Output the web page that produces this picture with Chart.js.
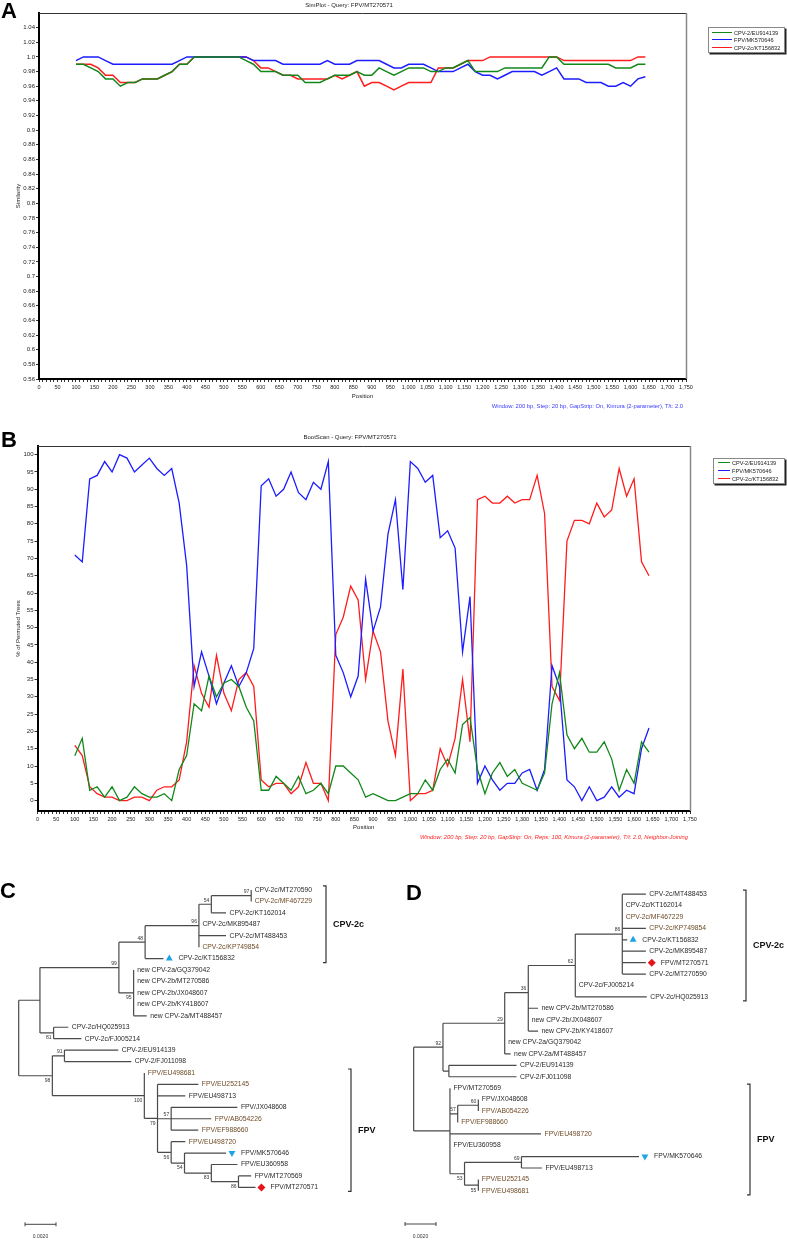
<!DOCTYPE html>
<html><head><meta charset="utf-8">
<script src="https://cdn.jsdelivr.net/npm/chart.js@4.4.1/dist/chart.umd.min.js"></script>
<style>
html,body{margin:0;padding:0;background:#fff;}
#page{position:relative;width:787px;height:1240px;overflow:hidden;font-family:"Liberation Sans",Arial,sans-serif;background:#fff;}
canvas{position:absolute;}
.t{position:absolute;white-space:nowrap;line-height:1;}
.panel{font-weight:bold;font-size:22px;color:#000;}
.title{font-size:6px;color:#222;transform:translateX(-50%);}
.note{font-size:5.8px;}
.legend{position:absolute;background:#fff;border:1px solid #888;box-shadow:1.5px 1.5px 0 #222;}
.li{position:absolute;height:0;border-top:1.8px solid;}
.lt{position:absolute;font-size:5.6px;color:#222;line-height:6px;white-space:nowrap;}
</style></head>
<body><div id="page">
<canvas id="cA" width="787" height="420" style="left:0;top:0"></canvas>
<canvas id="cB" width="787" height="430" style="left:0;top:420px"></canvas>
<canvas id="cC" width="393" height="390" style="left:0;top:850px"></canvas>
<canvas id="cD" width="394" height="390" style="left:393px;top:850px"></canvas>
<div class="t panel" style="left:1px;top:0px">A</div>
<div class="t panel" style="left:1px;top:429px">B</div>
<div class="t panel" style="left:0px;top:880px">C</div>
<div class="t panel" style="left:406px;top:882px">D</div>
<div class="t title" style="left:349px;top:2px">SimPlot - Query: FPV/MT270571</div>
<div class="t title" style="left:350px;top:434px">BootScan - Query: FPV/MT270571</div>
<div class="t note" style="right:104px;top:404px;color:#3b3bff">Window: 200 bp, Step: 20 bp, GapStrip: On, Kimura (2-parameter), T/t: 2.0</div>
<div class="t note" style="right:99px;top:835px;color:#ff2020;font-style:italic">Window: 200 bp, Step: 20 bp, GapStrip: On, Reps: 100, Kimura (2-parameter), T/t: 2.0, Neighbor-Joining</div>
<div id="legA" class="legend" style="left:708px;top:27px;width:75px;height:24px"></div>
<div id="legB" class="legend" style="left:713px;top:458px;width:70px;height:24px"></div>
</div>
<script>
const FONT = '"Liberation Sans", Arial, sans-serif';
Chart.defaults.font.family = FONT;

// ---------- data: positions (bp) ----------
const POS = [100,120,140,160,180,200,220,240,260,280,300,320,340,360,380,400,420,440,460,480,500,520,540,560,580,600,620,640,660,680,700,720,740,760,780,800,820,840,860,880,900,920,940,960,980,1000,1020,1040,1060,1080,1100,1120,1140,1160,1180,1200,1220,1240,1260,1280,1300,1320,1340,1360,1380,1400,1420,1440,1460,1480,1500,1520,1540,1560,1580,1600,1620,1640];
const SERIES_NAMES = ['CPV-2/EU914139','FPV/MK570646','CPV-2c/KT156832'];

// ---------- A: SimPlot similarity ----------
const A_CPV2 = [0.99,0.99,0.985,0.98,0.97,0.97,0.96,0.965,0.965,0.97,0.97,0.97,0.975,0.98,0.99,0.99,
 1.0,1.0,1.0,1.0,1.0,1.0,1.0, 0.995,0.99,0.98,0.98,0.98, 0.975,0.975,0.975, 0.965,0.965,0.965,
 0.97,0.975,0.975,0.975, 0.98,0.975,0.975, 0.985,0.98,0.975,0.98, 0.985,0.985,0.985,
 0.98,0.98,0.985,0.985, 0.99,0.995, 0.98,0.98,0.98,0.98, 0.985,0.985,0.985,0.985,0.985,0.985,
 1.0,1.0, 0.99,0.99,0.99,0.99,0.99,0.99,0.99, 0.985,0.985,0.985, 0.99,0.99];
const A_FPV = [0.995,1.0,1.0,1.0,0.995,0.99, 0.99,0.99,0.99,0.99,0.99,0.99,0.99,0.99, 0.995,1.0,
 1.0,1.0,1.0,1.0,1.0,1.0,1.0,1.0, 0.995,0.995,0.995,0.995, 0.99,0.99,0.99,0.99,0.99,0.99, 0.995,
 0.99,0.99,0.99, 0.995,0.995,0.995,0.995, 0.99,0.985,0.985, 0.99,0.99,0.99, 0.985,0.98,0.98,0.98,
 0.985,0.99, 0.98,0.975,0.975,0.97,0.975, 0.98,0.98,0.98,0.98, 0.975,0.98,0.985, 0.97,0.97,0.97,
 0.965,0.965,0.965, 0.96,0.96,0.965,0.96,0.97,0.973];
const A_CPV2C = [0.99,0.99,0.99,0.985,0.975,0.975,0.965,0.965,0.965,0.97,0.97,0.97,0.975,0.98,0.99,0.99,
 1.0,1.0,1.0,1.0,1.0,1.0,1.0,1.0, 0.995, 0.985,0.985,0.98, 0.975,0.975, 0.97, 0.97,0.97,0.97,0.97,
 0.975,0.97,0.975, 0.98, 0.96,0.965,0.965, 0.96,0.955,0.96, 0.965,0.965,0.965,0.965,
 0.985,0.985,0.985, 0.99, 0.995,0.995,0.995, 1.0,1.0,1.0,1.0,1.0,1.0,1.0,1.0,1.0,1.0,
 0.995,0.995,0.995,0.995,0.995,0.995,0.995,0.995,0.995,0.995, 1.0,1.0];

// ---------- B: BootScan % permuted trees ----------
const B_CPV2 = [13,18,3,4,1,4,0,1,4,2, 1,1,2,0,9,13,28,26,36,30, 34,35,33,27,23,3,3,7,5,3,
 7,2,3,5,2,10,10,8,6,1, 2,1,0,0,1,2,2,6,3,9, 12,8,22,24,9,2,8,11,7,9,
 5,4,3,8,28,37,19,15,18,14, 14,17,12,3,9,5,17,14];
const B_FPV = [71,69,93,94,98,95,100,99,95,97, 99,96,94,96,86,68,33,43,36,28, 34,39,33,37,44,91,93,88,90,95,
 89,87,92,90,98,42,37,30,36,64, 49,56,77,87,61,98,96,92,94,76, 78,73,43,59,5,10,6,3,5,5,
 8,9,3,9,39,33,6,4,0,4, 0,1,4,1,3,2,15,21];
const B_CPV2C = [16,13,4,2,1,1,0,0,1,1, 0,3,4,4,6,17,39,31,27,42, 31,26,35,37,33,6,4,5,5,2,
 4,11,5,5,0,48,53,62,58,35, 49,43,23,13,38,0,2,2,3,15, 10,18,35,17,87,88,86,86,88,86,
 87,87,94,83,33,29,75,81,81,80, 86,82,84,96,88,93,69,65];

// ---------- axis ticks ----------
const X_TICKS = []; for (let v = 0; v <= 1750; v += 10) X_TICKS.push(v);
const A_YTICKS = []; for (let k = 56; k <= 104; k += 2) A_YTICKS.push(k / 100);
const B_YTICKS = []; for (let v = 0; v <= 100; v += 5) B_YTICKS.push(v);

// ---------- C tree (region 1) ----------
const C_LEAVES = ['CPV-2c/MT270590','CPV-2c/MF467229','CPV-2c/KT162014','CPV-2c/MK895487','CPV-2c/MT488453','CPV-2c/KP749854','CPV-2c/KT156832','new CPV-2a/GQ379042','new CPV-2b/MT270586','new CPV-2b/JX048607','new CPV-2b/KY418607','new CPV-2a/MT488457','CPV-2c/HQ025913','CPV-2c/FJ005214','CPV-2/EU914139','CPV-2/FJ011098','FPV/EU498681','FPV/EU252145','FPV/EU498713','FPV/JX048608','FPV/AB054226','FPV/EF988660','FPV/EU498720','FPV/MK570646','FPV/EU360958','FPV/MT270569','FPV/MT270571'];
const C_TIPS = [0.01499,0.01499,0.01337,0.01162,0.01337,0.01162,0.00933,0.00741,0.00741,0.00741,0.00741,0.00825,0.0032,0.00404,0.00642,0.00726,0.0081,0.01158,0.01074,0.0141,0.01242,0.01158,0.01074,0.01337,0.0141,0.01499,0.01527];
const C_NODES = [
 ['n97',0.01499,[0,1],'97'], ['n54a',0.01242,['n97',2],'54'], ['n96',0.01162,['n54a',3,4,5],'96'],
 ['n48',0.00815,['n96',6],'48'], ['n95',0.00741,[7,8,9,10,11],'95'], ['n99',0.00646,['n48','n95'],'99'],
 ['n81',0.00225,[12,13],'81'], ['nR',0.00137,['n99','n81'],''], ['n91',0.00295,[14,15],'91'],
 ['n86',0.01417,[25,26],'86'], ['n83',0.01242,[24,'n86'],'83'], ['n54b',0.01069,[23,'n83'],'54'],
 ['n56',0.00983,[22,'n54b'],'56'], ['n57',0.00983,[19,20,21],'57'], ['n79',0.00895,[17,18,'n57','n56'],'79'],
 ['n100',0.0081,[16,'n79'],'100'], ['n98',0.00217,['n91','n100'],'98'], ['root',0,['nR','n98'],'']
];
const C_CLADES = [['CPV-2c',0,6],['FPV',16,26]];

// ---------- D tree (region 2) ----------
const D_LEAVES = ['CPV-2c/MT488453','CPV-2c/KT162014','CPV-2c/MF467229','CPV-2c/KP749854','CPV-2c/KT156832','CPV-2c/MK895487','FPV/MT270571','CPV-2c/MT270590','CPV-2c/FJ005214','CPV-2c/HQ025913','new CPV-2b/MT270586','new CPV-2b/JX048607','new CPV-2b/KY418607','new CPV-2a/GQ379042','new CPV-2a/MT488457','CPV-2/EU914139','CPV-2/FJ011098','FPV/MT270569','FPV/JX048608','FPV/AB054226','FPV/EF988660','FPV/EU498720','FPV/EU360958','FPV/MK570646','FPV/EU498713','FPV/EU252145','FPV/EU498681'];
const D_TIPS = [0.01497,0.01345,0.01345,0.01497,0.01377,0.01497,0.01497,0.01497,0.01042,0.01503,0.00802,0.00739,0.00802,0.00587,0.00625,0.00663,0.00663,0.00234,0.00417,0.00417,0.00284,0.00821,0.00234,0.01453,0.00827,0.00417,0.00417];
const D_NODES = [
 ['n86',0.01345,[0,1,2,3,4,5,6,7],'86'], ['n62',0.01042,['n86',8,9],'62'], ['nQ',0.00739,[10,11,12],''],
 ['n36',0.00739,['n62','nQ'],'36'], ['n29',0.00587,['n36',13,14],'29'], ['nP',0.00227,[15,16],''],
 ['n92',0.00189,['n29','nP'],'92'], ['n60',0.00417,[18,19],'60'], ['n57',0.00284,['n60',20],'57'],
 ['n69',0.00695,[23,24],'69'], ['n55',0.00417,[25,26],'55'], ['n53',0.00328,['n69','n55'],'53'],
 ['nF',0.00234,[17,'n57',21,22,'n53'],''], ['root',0,['n92','nF'],'']
];
const D_CLADES = [['CPV-2c',0,9],['FPV',17,26]];
const MARKS = {'CPV-2c/KT156832':'up','FPV/MK570646':'down','FPV/MT270571':'diamond'};
const SCALE_BAR = 0.002;

// ---------- styles ----------
const SERIES_COLORS = ['#12881a','#1c1cff','#ff1c1c'];
const BROWN = ['CPV-2c/MF467229','CPV-2c/KP749854','FPV/EU498681','FPV/EU252145','FPV/AB054226','FPV/EF988660','FPV/EU498720'];

function buildLegend(id, rows, lineLeft, lineW, textLeft) {
  const el = document.getElementById(id);
  SERIES_NAMES.forEach((nm, i) => {
    const l = document.createElement('div'); l.className = 'li';
    l.style.left = lineLeft + 'px'; l.style.width = lineW + 'px';
    l.style.top = (rows[i] - 0.9) + 'px'; l.style.borderTopColor = SERIES_COLORS[i];
    const t = document.createElement('div'); t.className = 'lt';
    t.style.left = textLeft + 'px';
    t.style.top = (rows[i] - 3) + 'px'; t.textContent = nm;
    el.appendChild(l); el.appendChild(t);
  });
}
buildLegend('legA', [4.7, 12.3, 20.3], 3, 20, 25);
buildLegend('legB', [4.3, 12.0, 20.3], 4, 12, 18);

const framePlugin = {
  id: 'frame',
  afterDatasetsDraw(chart) {
    const {ctx, chartArea: {left, top, right, bottom}} = chart;
    ctx.save();
    ctx.strokeStyle = '#333'; ctx.lineWidth = 1;
    ctx.beginPath(); ctx.moveTo(left, top + 0.5); ctx.lineTo(right, top + 0.5); ctx.stroke();
    ctx.strokeStyle = '#888'; ctx.lineWidth = 1.5;
    ctx.beginPath(); ctx.moveTo(right + 0.5, top); ctx.lineTo(right + 0.5, bottom); ctx.stroke();
    ctx.restore();
  }
};

function lineChart(id, c) {
  return new Chart(document.getElementById(id), {
    type: 'line',
    data: { datasets: c.series.map((s, i) => ({
      label: SERIES_NAMES[i], data: POS.map((p, k) => ({x: p, y: s[k]})),
      borderColor: SERIES_COLORS[i], borderWidth: c.lw, pointRadius: 0, tension: 0, fill: false
    })) },
    options: {
      responsive: false, animation: false, devicePixelRatio: 1,
      layout: { padding: { top: c.padTop, right: c.padRight, left: 0, bottom: 0 } },
      plugins: { legend: { display: false }, tooltip: { enabled: false } },
      scales: {
        x: {
          type: 'linear', min: 0, max: 1750,
          afterBuildTicks: sc => { sc.ticks = X_TICKS.map(v => ({value: v})); },
          afterFit: sc => { sc.height = c.xH; },
          ticks: { autoSkip: false, maxRotation: 0, minRotation: 0, padding: 2, color: '#222',
            font: { size: 5.5 }, callback: v => (v % 50 === 0 ? v.toLocaleString('en-US') : '') },
          grid: { drawOnChartArea: false, tickLength: 3, color: '#333', lineWidth: 1 },
          border: { color: '#000', width: 2 },
          title: { display: true, text: 'Position', color: '#222', font: { size: 6 }, padding: { top: 0, bottom: c.xTitlePad } }
        },
        y: {
          type: 'linear', min: c.yMin, max: c.yMax,
          afterBuildTicks: sc => { sc.ticks = c.yTicks.map(v => ({value: v})); },
          afterFit: sc => { sc.width = c.yW; },
          ticks: { padding: 1, color: '#222', font: { size: 6 }, callback: c.yFmt },
          grid: { drawOnChartArea: false, tickLength: 3, color: '#333', lineWidth: 1 },
          border: { color: '#000', width: 2 },
          title: { display: true, text: c.yTitle, color: '#222', font: { size: 6 }, padding: { top: c.yTitlePad, bottom: 0 } }
        }
      }
    },
    plugins: [framePlugin]
  });
}

lineChart('cA', {
  series: [A_CPV2, A_FPV, A_CPV2C], lw: 1.5, padTop: 13, padRight: 101, xH: 41, yW: 39,
  yMin: 0.56, yMax: 1.06, yTicks: A_YTICKS, xTitlePad: 20.4, yTitlePad: 14.4, yTitle: 'Similarity',
  yFmt: v => { let s = v.toFixed(2); return s.endsWith('0') ? s.slice(0, -1) : s; }
});
lineChart('cB', {
  series: [B_CPV2, B_FPV, B_CPV2C], lw: 1.3, padTop: 26, padRight: 97, xH: 39, yW: 37.5,
  yMin: -3, yMax: 102.5, yTicks: B_YTICKS, xTitlePad: 19.4, yTitlePad: 14.4, yTitle: '% of Permuted Trees',
  yFmt: v => String(v)
});

// ---------- trees ----------
const PXU = 15833; // pixels per substitution/site (scale bar 0.0020 ≈ 31.7px)
function treeChart(id, T, L) {
  const byId = {}; T.nodes.forEach(n => byId[n[0]] = n);
  const lastChild = {};
  T.nodes.forEach(n => n[2].forEach((k, j) => { if (typeof k === 'string') lastChild[k] = (j === n[2].length - 1); }));
  const yOf = r => { if (typeof r === 'number') return r; const k = byId[r][2]; return (yOf(k[0]) + yOf(k[k.length - 1])) / 2; };
  const xOf = r => typeof r === 'number' ? T.tips[r] : byId[r][1];
  const segs = [];
  T.nodes.forEach(n => {
    const k = n[2];
    segs.push({x: n[1], y: yOf(k[0])}, {x: n[1], y: yOf(k[k.length - 1])}, {x: n[1], y: null});
    k.forEach(c => segs.push({x: n[1], y: yOf(c)}, {x: xOf(c), y: yOf(c)}, {x: xOf(c), y: null}));
  });
  const mk = T.leaves.map((nm, i) => i).filter(i => MARKS[T.leaves[i]]);
  const markData = mk.map(i => ({x: T.tips[i] + L.markOff / PXU, y: i}));
  const labelPlugin = {
    id: 'treeLabels',
    afterDatasetsDraw(chart) {
      const {ctx, scales: {x, y}} = chart;
      ctx.save();
      ctx.font = '6.8px ' + FONT; ctx.textBaseline = 'middle'; ctx.textAlign = 'left';
      T.leaves.forEach((nm, i) => {
        ctx.fillStyle = BROWN.includes(nm) ? '#6e4a26' : '#2a2a2a';
        const off = MARKS[nm] ? L.markLabelOff : L.labelOff;
        ctx.fillText(nm, x.getPixelForValue(T.tips[i]) + off, y.getPixelForValue(i));
      });
      ctx.font = '5px ' + FONT; ctx.fillStyle = '#333'; ctx.textAlign = 'right';
      T.nodes.forEach(n => {
        if (!n[3]) return;
        const below = lastChild[n[0]];
        const px = x.getPixelForValue(n[1]) - 2, py = y.getPixelForValue(yOf(n[0]));
        ctx.textBaseline = below ? 'top' : 'bottom';
        ctx.fillText(n[3], px, below ? py + 2.5 : py - 1.5);
      });
      ctx.strokeStyle = '#333'; ctx.lineWidth = 1.2;
      T.clades.forEach((cl, j) => {
        const bx = L.bracketX[j];
        const y0 = y.getPixelForValue(cl[1]) - 4, y1 = y.getPixelForValue(cl[2]) + 4;
        ctx.beginPath(); ctx.moveTo(bx - 3, y0); ctx.lineTo(bx, y0); ctx.lineTo(bx, y1); ctx.lineTo(bx - 3, y1); ctx.stroke();
        ctx.font = 'bold 9px ' + FONT; ctx.fillStyle = '#111'; ctx.textAlign = 'left'; ctx.textBaseline = 'middle';
        ctx.fillText(cl[0], bx + 7, (y0 + y1) / 2);
      });
      const sx0 = L.sbX, sx1 = L.sbX + (x.getPixelForValue(SCALE_BAR) - x.getPixelForValue(0));
      ctx.strokeStyle = '#444'; ctx.lineWidth = 1;
      ctx.beginPath(); ctx.moveTo(sx0, L.sbY); ctx.lineTo(sx1, L.sbY);
      ctx.moveTo(sx0, L.sbY - 2); ctx.lineTo(sx0, L.sbY + 2); ctx.moveTo(sx1, L.sbY - 2); ctx.lineTo(sx1, L.sbY + 2); ctx.stroke();
      ctx.font = '5px ' + FONT; ctx.fillStyle = '#333'; ctx.textAlign = 'center'; ctx.textBaseline = 'middle';
      ctx.fillText(SCALE_BAR.toFixed(4), (sx0 + sx1) / 2, L.sbY + 12.5);
      ctx.restore();
    }
  };
  return new Chart(document.getElementById(id), {
    type: 'line',
    data: { datasets: [
      { data: segs, borderColor: '#4a4a4a', borderWidth: 1.2, pointRadius: 0, spanGaps: false, tension: 0 },
      { data: markData, showLine: false, pointRadius: 4, pointBorderWidth: 0,
        pointStyle: mk.map(i => MARKS[T.leaves[i]] === 'diamond' ? 'rectRot' : 'triangle'),
        pointRotation: mk.map(i => MARKS[T.leaves[i]] === 'down' ? 180 : 0),
        pointBackgroundColor: mk.map(i => MARKS[T.leaves[i]] === 'diamond' ? '#e8141c' : '#1ea4e4'),
        pointBorderColor: mk.map(i => MARKS[T.leaves[i]] === 'diamond' ? '#e8141c' : '#1ea4e4') }
    ] },
    options: {
      responsive: false, animation: false, devicePixelRatio: 1,
      layout: { padding: 0 },
      plugins: { legend: { display: false }, tooltip: { enabled: false } },
      scales: {
        x: { type: 'linear', display: false, min: -L.rootPx / PXU, max: (L.w - L.rootPx) / PXU },
        y: { type: 'linear', display: false, reverse: true, min: -L.row0 / L.rowH, max: (L.h - L.row0) / L.rowH }
      }
    },
    plugins: [labelPlugin]
  });
}

treeChart('cC', { leaves: C_LEAVES, tips: C_TIPS, nodes: C_NODES, clades: C_CLADES },
  { w: 393, h: 390, rootPx: 15, row0: 36.7, rowH: 11.68, markOff: 6, markLabelOff: 15, labelOff: 3.5,
    bracketX: [326, 351], sbX: 25, sbY: 374.3 });
treeChart('cD', { leaves: D_LEAVES, tips: D_TIPS, nodes: D_NODES, clades: D_CLADES },
  { w: 394, h: 390, rootPx: 17, row0: 41, rowH: 11.65, markOff: 6, markLabelOff: 15, labelOff: 3.5,
    bracketX: [353, 357], sbX: 12, sbY: 374 });
</script>
</body></html>
